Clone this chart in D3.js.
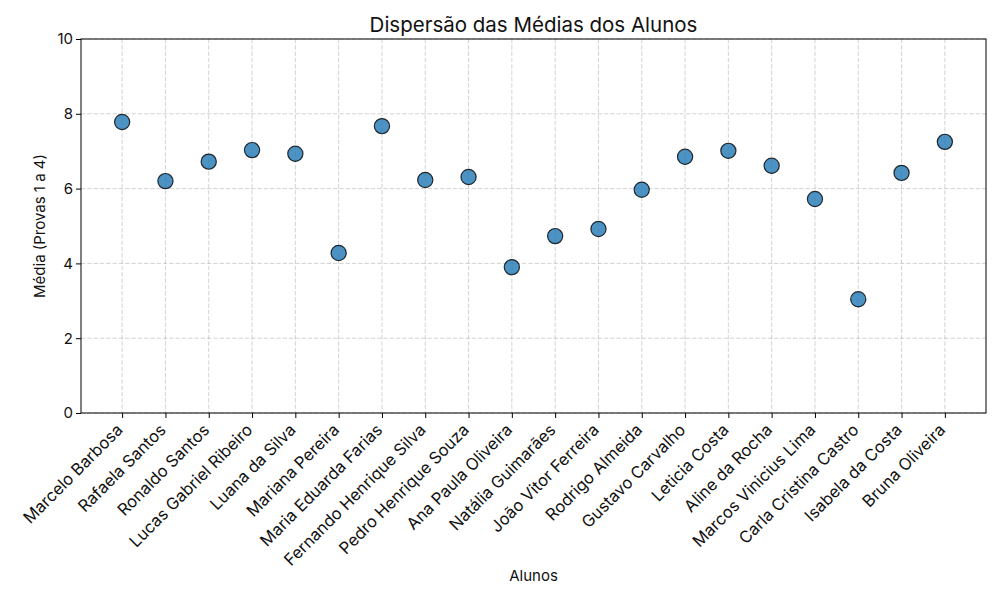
<!DOCTYPE html>
<html>
<head>
<meta charset="utf-8">
<script src="https://cdn.jsdelivr.net/npm/d3@7"></script>
<style>
  body { margin: 0; background: #fff; }
  text { font-family: Inter, "Noto Sans", sans-serif; fill: #111; }
</style>
</head>
<body>
<div id="chart"></div>
<script>
// data
var alunos = ["Marcelo Barbosa", "Rafaela Santos", "Ronaldo Santos", "Lucas Gabriel Ribeiro",
  "Luana da Silva", "Mariana Pereira", "Maria Eduarda Farias", "Fernando Henrique Silva",
  "Pedro Henrique Souza", "Ana Paula Oliveira", "Natália Guimarães", "João Vitor Ferreira",
  "Rodrigo Almeida", "Gustavo Carvalho", "Leticia Costa", "Aline da Rocha",
  "Marcos Vinicius Lima", "Carla Cristina Castro", "Isabela da Costa", "Bruna Oliveira"];
var medias = [7.78, 6.20, 6.72, 7.03, 6.93, 4.28, 7.67, 6.23, 6.31, 3.90,
  4.73, 4.92, 5.97, 6.85, 7.01, 6.61, 5.72, 3.04, 6.42, 7.25];
var yTicks = [0, 2, 4, 6, 8, 10];

var margin = {top: 39, right: 14, bottom: 187, left: 81},
    width = 1000 - margin.left - margin.right,
    height = 600 - margin.top - margin.bottom;

// categorical positions with matplotlib-like 5% margins
var x = d3.scaleLinear().domain([-0.95, alunos.length - 1 + 0.95]).range([0, width]);
var y = d3.scaleLinear().domain([0, 10]).range([height, 0]);

var svg = d3.select("#chart").append("svg")
    .attr("width", 1000)
    .attr("height", 600);

var g = svg.append("g")
    .attr("transform", "translate(" + margin.left + "," + margin.top + ")");

// grid
g.append("g").selectAll("line.gx")
  .data(alunos).enter().append("line")
    .attr("x1", function(d, i) { return x(i); })
    .attr("x2", function(d, i) { return x(i); })
    .attr("y1", 0).attr("y2", height)
    .attr("stroke", "#b0b0b0").attr("stroke-opacity", 0.7)
    .attr("stroke-width", 0.8).attr("stroke-dasharray", "4.4,1.9");

g.append("g").selectAll("line.gy")
  .data(yTicks).enter().append("line")
    .attr("x1", 0).attr("x2", width)
    .attr("y1", function(d) { return y(d); })
    .attr("y2", function(d) { return y(d); })
    .attr("stroke", "#b0b0b0").attr("stroke-opacity", 0.7)
    .attr("stroke-width", 0.8).attr("stroke-dasharray", "4.4,1.9");

// points
g.append("g").selectAll("circle")
  .data(medias).enter().append("circle")
    .attr("cx", function(d, i) { return x(i); })
    .attr("cy", function(d) { return y(d); })
    .attr("r", 7.6)
    .attr("fill", "#1f77b4").attr("fill-opacity", 0.8)
    .attr("stroke", "#000").attr("stroke-opacity", 0.8)
    .attr("stroke-width", 1.2);

// frame
g.append("rect")
    .attr("width", width).attr("height", height)
    .attr("fill", "none").attr("stroke", "#000").attr("stroke-width", 1);

// x axis
var xAxis = d3.axisBottom(x)
    .tickValues(d3.range(alunos.length))
    .tickFormat(function(i) { return alunos[i]; })
    .tickSize(5).tickSizeOuter(0);

var gx = g.append("g")
    .attr("transform", "translate(0," + height + ")")
    .call(xAxis);
gx.select(".domain").remove();
gx.selectAll("text")
    .style("font-size", "16.5px")
    .attr("text-anchor", "end")
    .attr("dy", null)
    .attr("transform", "translate(-8,9) rotate(-45)")
    .attr("y", 0).attr("x", 0)
    .attr("dominant-baseline", "hanging");

// y axis
var yAxis = d3.axisLeft(y).tickValues(yTicks).tickSize(5).tickSizeOuter(0);
var gy = g.append("g").call(yAxis);
gy.select(".domain").remove();
gy.selectAll("text").style("font-size", "15px").attr("x", -8);

// labels
svg.append("text")
    .attr("x", margin.left + width / 2).attr("y", 32)
    .attr("text-anchor", "middle")
    .style("font-size", "20.5px")
    .text("Dispersão das Médias dos Alunos");

svg.append("text")
    .attr("x", margin.left + width / 2).attr("y", 581)
    .attr("text-anchor", "middle")
    .style("font-size", "15px")
    .text("Alunos");

svg.append("text")
    .attr("transform", "translate(45," + (margin.top + height / 2) + ") rotate(-90)")
    .attr("text-anchor", "middle")
    .style("font-size", "15px")
    .text("Média (Provas 1 a 4)");
</script>
</body>
</html>
